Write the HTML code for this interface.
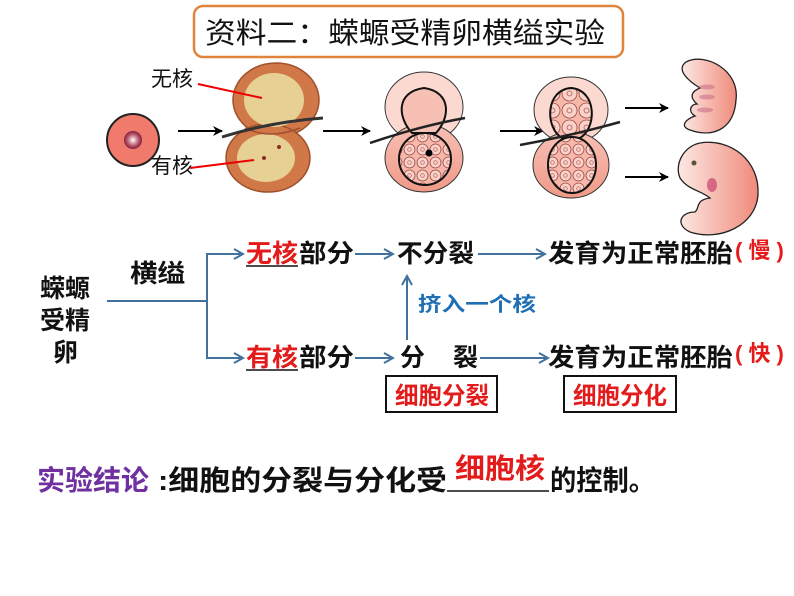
<!DOCTYPE html>
<html><head><meta charset="utf-8"><style>
html,body{margin:0;padding:0;background:#fff;}
svg{display:block;}
text{font-family:"Liberation Sans","Noto Sans CJK SC",sans-serif;}
.b{font-weight:bold;}
</style></head><body>
<svg width="794" height="596" viewBox="0 0 794 596" xmlns="http://www.w3.org/2000/svg">
<defs>
<marker id="ah" markerWidth="10" markerHeight="10" refX="9" refY="5" orient="auto" markerUnits="userSpaceOnUse"><path d="M0,0 L10,5 L0,10 L3,5 z" fill="#000"/></marker>
<marker id="bh" markerWidth="12" markerHeight="12" refX="10" refY="6" orient="auto" markerUnits="userSpaceOnUse"><path d="M1,1 L10,6 L1,11" fill="none" stroke="#41719c" stroke-width="2"/></marker>
<radialGradient id="nuc"><stop offset="0" stop-color="#fff"/><stop offset="0.6" stop-color="#c06070"/><stop offset="1" stop-color="#802040"/></radialGradient>
<linearGradient id="emb" x1="0" x2="1"><stop offset="0" stop-color="#fde8e4"/><stop offset="1" stop-color="#ef8a7a"/></linearGradient>
<linearGradient id="shellB" x1="0" y1="0" x2="0" y2="1"><stop offset="0" stop-color="#f7c0b4"/><stop offset="1" stop-color="#f09a88"/></linearGradient>
<pattern id="cells" width="13" height="13" patternUnits="userSpaceOnUse"><rect width="13" height="13" fill="#f7b8aa"/><circle cx="6.5" cy="6.5" r="5.5" fill="#fbd2c8" stroke="#9a4a48" stroke-width="0.8"/><circle cx="6.5" cy="6.5" r="1.8" fill="none" stroke="#b05a58" stroke-width="0.7"/></pattern>
<pattern id="cellsL" width="17" height="17" patternUnits="userSpaceOnUse"><rect width="17" height="17" fill="#f7b8aa"/><circle cx="8.5" cy="8.5" r="7.5" fill="#fbd2c8" stroke="#9a4a48" stroke-width="0.8"/><circle cx="8.5" cy="8.5" r="2.5" fill="none" stroke="#b05a58" stroke-width="0.8"/></pattern>
</defs>

<!-- Title -->
<rect x="194" y="6" width="429" height="51" rx="9" fill="#fff" stroke="#e0843c" stroke-width="2.5"/>
<text x="205" y="43" font-size="29" textLength="400" lengthAdjust="spacingAndGlyphs" fill="#111">资料二：蝾螈受精卵横缢实验</text>

<!-- egg -->
<circle cx="133" cy="140" r="26" fill="#f07a6c" stroke="#222" stroke-width="2"/>
<circle cx="133" cy="140" r="9" fill="url(#nuc)"/>
<line x1="178" y1="131" x2="222" y2="131" stroke="#000" stroke-width="2" marker-end="url(#ah)"/>

<text x="151" y="86" font-size="21" fill="#111">无核</text>
<text x="151" y="173" font-size="21" fill="#111">有核</text>

<!-- figure 1 -->
<ellipse cx="276" cy="100" rx="43" ry="37" fill="#d07848" stroke="#a0502a" stroke-width="1.5"/>
<ellipse cx="268" cy="158" rx="42" ry="34" fill="#d07848" stroke="#a0502a" stroke-width="1.5"/>
<ellipse cx="274" cy="100" rx="30" ry="27" fill="#e6d094"/>
<ellipse cx="266" cy="158" rx="29" ry="24" fill="#e6d094"/>
<path d="M245,128 Q270,140 300,128" fill="none" stroke="#a05030" stroke-width="1.5"/>
<path d="M222,137 Q270,122 323,118" fill="none" stroke="#333" stroke-width="3"/>
<line x1="198" y1="84" x2="262" y2="98" stroke="#e00" stroke-width="2"/>
<line x1="190" y1="168" x2="254" y2="160" stroke="#e00" stroke-width="2"/>
<circle cx="279" cy="147" r="2" fill="#8a3020"/><circle cx="264" cy="158" r="2" fill="#8a3020"/>
<line x1="323" y1="131" x2="370" y2="131" stroke="#000" stroke-width="2" marker-end="url(#ah)"/>

<!-- figure 2 -->
<ellipse cx="424" cy="107" rx="39" ry="35" fill="#fbd8d0" stroke="#333" stroke-width="1"/>
<ellipse cx="424" cy="158" rx="39" ry="34" fill="url(#shellB)" stroke="#333" stroke-width="1"/>
<path d="M412,133 C398,118 395,92 424,88 C452,92 450,118 436,133 Z" fill="#f7c0b4" stroke="#111" stroke-width="2"/>
<circle cx="425" cy="159" r="26" fill="url(#cells)" stroke="#111" stroke-width="2"/>
<circle cx="429" cy="153" r="3.5" fill="#000"/>
<path d="M370,143 Q420,126 465,118" fill="none" stroke="#222" stroke-width="2.5"/>
<line x1="500" y1="131" x2="543" y2="131" stroke="#000" stroke-width="2" marker-end="url(#ah)"/>

<!-- figure 3 -->
<ellipse cx="571" cy="110" rx="37" ry="33" fill="#fbd8d0" stroke="#333" stroke-width="1"/>
<ellipse cx="571" cy="165" rx="38" ry="33" fill="url(#shellB)" stroke="#333" stroke-width="1"/>
<path d="M562,138 C545,128 545,90 571,88 C597,90 597,128 580,138 Z" fill="url(#cellsL)" stroke="#111" stroke-width="2"/>
<ellipse cx="572" cy="165" rx="24" ry="28" fill="url(#cells)" stroke="#111" stroke-width="2"/>
<path d="M520,145 Q570,136 620,122" fill="none" stroke="#222" stroke-width="2.5"/>

<line x1="625" y1="108" x2="668" y2="108" stroke="#000" stroke-width="2" marker-end="url(#ah)"/>
<line x1="625" y1="177" x2="668" y2="177" stroke="#000" stroke-width="2" marker-end="url(#ah)"/>

<!-- embryos -->
<path d="M686,62 C705,52 740,70 736,100 C734,130 712,138 690,130 C678,126 688,118 695,116 C688,112 690,104 697,104 C690,98 690,92 700,88 C690,82 675,70 686,62 Z" fill="url(#emb)" stroke="#222" stroke-width="1.3"/>
<path d="M700,143 C730,138 760,160 758,195 C756,225 720,242 690,232 C675,225 680,212 695,212 C700,208 695,200 710,198 C700,190 688,190 680,178 C674,164 684,146 700,143 Z" fill="url(#emb)" stroke="#222" stroke-width="1.3"/>
<ellipse cx="707" cy="87" rx="8" ry="2.5" fill="#c06080" opacity="0.5"/>
<ellipse cx="707" cy="97" rx="8" ry="2.5" fill="#c06080" opacity="0.5"/>
<ellipse cx="705" cy="110" rx="8" ry="2.5" fill="#c06080" opacity="0.5"/>
<circle cx="694" cy="163" r="2.5" fill="#553"/>
<ellipse cx="712" cy="185" rx="5" ry="7" fill="#c03060" opacity="0.6"/>

<!-- diagram lower -->
<g stroke="#41719c" stroke-width="2" fill="none">
<line x1="107" y1="301" x2="207" y2="301"/>
<polyline points="243,254 207,254 207,358 243,358" marker-end="url(#bh)"/>
<line x1="207" y1="254" x2="243" y2="254" marker-end="url(#bh)"/>
<line x1="355" y1="254" x2="393" y2="254" marker-end="url(#bh)"/>
<line x1="355" y1="358" x2="393" y2="358" marker-end="url(#bh)"/>
<line x1="478" y1="254" x2="545" y2="254" marker-end="url(#bh)"/>
<line x1="480" y1="358" x2="548" y2="358" marker-end="url(#bh)"/>
<line x1="407" y1="340" x2="407" y2="276" marker-end="url(#bh)"/>
</g>

<g class="b" font-size="25" fill="#111" lengthAdjust="spacingAndGlyphs">
<text x="40" y="297" textLength="50" lengthAdjust="spacingAndGlyphs">蝾螈</text>
<text x="40" y="329" textLength="50" lengthAdjust="spacingAndGlyphs">受精</text>
<text x="53" y="361">卵</text>
<text x="130" y="282" textLength="55" lengthAdjust="spacingAndGlyphs">横缢</text>
<text x="246" y="262" textLength="52" lengthAdjust="spacingAndGlyphs" fill="#e31b1b">无核</text>
<text x="299" y="262" textLength="55" lengthAdjust="spacingAndGlyphs">部分</text>
<text x="246" y="366" textLength="52" lengthAdjust="spacingAndGlyphs" fill="#e31b1b">有核</text>
<text x="299" y="366" textLength="55" lengthAdjust="spacingAndGlyphs">部分</text>
<text x="397" y="262" textLength="77" lengthAdjust="spacingAndGlyphs">不分裂</text>
<text x="400" y="366">分</text><text x="453" y="366">裂</text>
<text x="548" y="262" textLength="185" lengthAdjust="spacingAndGlyphs">发育为正常胚胎</text>
<text x="548" y="366" textLength="185" lengthAdjust="spacingAndGlyphs">发育为正常胚胎</text>
<text x="735" y="258" fill="#e31b1b" font-size="22">( 慢 )</text>
<text x="735" y="361" fill="#e31b1b" font-size="22">( 快 )</text>
</g>
<line x1="246" y1="266" x2="298" y2="266" stroke="#111" stroke-width="1.5"/>
<line x1="246" y1="370" x2="298" y2="370" stroke="#111" stroke-width="1.5"/>
<text x="418" y="311" class="b" font-size="20" textLength="118" lengthAdjust="spacingAndGlyphs" fill="#1f6fb5">挤入一个核</text>

<rect x="386" y="376" width="111" height="36" fill="#fff" stroke="#111" stroke-width="2"/>
<text x="395" y="404" textLength="94" lengthAdjust="spacingAndGlyphs" class="b" font-size="24" fill="#e31b1b">细胞分裂</text>
<rect x="564" y="376" width="112" height="36" fill="#fff" stroke="#111" stroke-width="2"/>
<text x="573" y="404" textLength="94" lengthAdjust="spacingAndGlyphs" class="b" font-size="24" fill="#e31b1b">细胞分化</text>

<text x="37" y="490" class="b" font-size="28" textLength="112" lengthAdjust="spacingAndGlyphs" fill="#7030a0">实验结论</text>
<text x="158" y="490" class="b" font-size="28" textLength="289" lengthAdjust="spacingAndGlyphs" fill="#111">:细胞的分裂与分化受</text>
<line x1="447" y1="491" x2="549" y2="491" stroke="#111" stroke-width="1.5"/>
<text x="455" y="478" class="b" font-size="28" textLength="90" lengthAdjust="spacingAndGlyphs" fill="#e31b1b">细胞核</text>
<text x="550" y="490" class="b" font-size="28" textLength="105" lengthAdjust="spacingAndGlyphs" fill="#111">的控制。</text>
</svg>
</body></html>
